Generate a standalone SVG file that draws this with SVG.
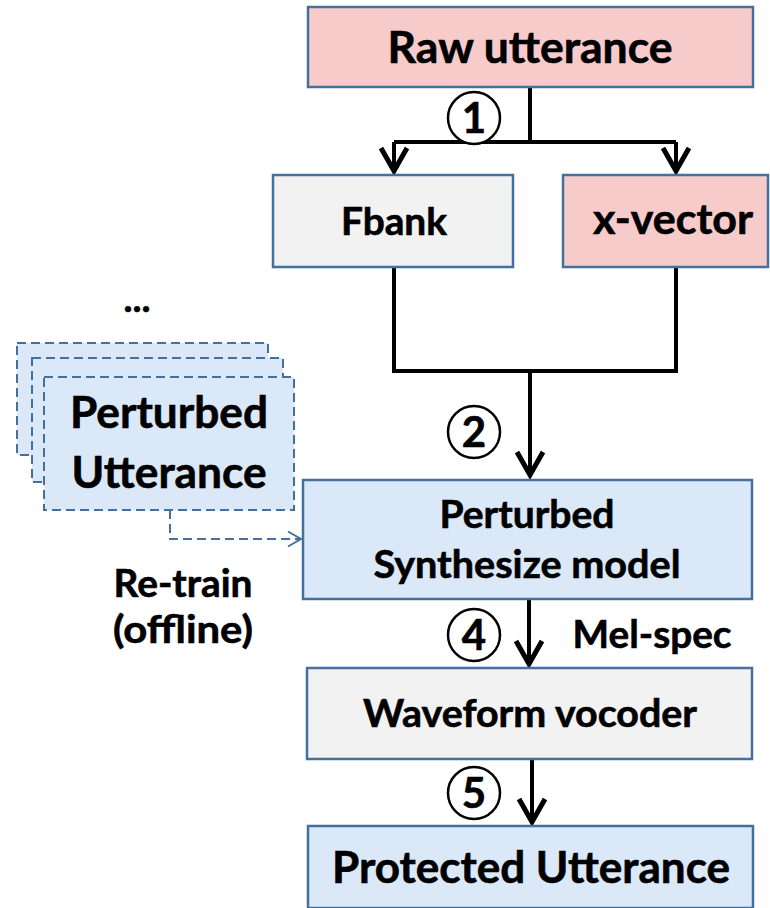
<svg xmlns="http://www.w3.org/2000/svg" width="770" height="908" viewBox="0 0 770 908">
  <defs>
    <style>
      .box { stroke: #41719c; stroke-width: 2.5; }
      .pink { fill: #f8cbcb; }
      .grey { fill: #f2f2f2; }
      .blue { fill: #dae8f8; }
      .dash { fill: #dae8f8; stroke: #41719c; stroke-width: 2; stroke-dasharray: 9 5; }
      .lbl { font-family: Lato, "Open Sans", "DejaVu Sans", sans-serif; font-weight: bold; fill: #000; stroke: #000; stroke-width: 0.6; text-anchor: middle; }
      .flow { fill: none; stroke: #000; stroke-width: 4; }
      .step { fill: #fff; stroke: #000; stroke-width: 2.5; }
    </style>
    <!-- open chevron head pointing along the path -->
    <marker id="chev" viewBox="0 0 34 34" refX="28" refY="17" markerWidth="34" markerHeight="34" markerUnits="userSpaceOnUse" orient="auto">
      <path d="M5,4 L28,17 L5,30" fill="none" stroke="#000" stroke-width="5"/>
    </marker>
    <marker id="thin" viewBox="0 0 20 20" refX="17" refY="10" markerWidth="20" markerHeight="20" markerUnits="userSpaceOnUse" orient="auto">
      <path d="M4,2.5 L17,10 L4,17.5" fill="none" stroke="#41719c" stroke-width="2"/>
    </marker>
  </defs>

  <!-- connectors -->
  <g id="connectors">
    <path class="flow" d="M530,87 V142"/>
    <path class="flow" d="M394,142 H676"/>
    <path class="flow" d="M394,142 V171" marker-end="url(#chev)"/>
    <path class="flow" d="M676,142 V171" marker-end="url(#chev)"/>
    <path class="flow" d="M394,267 V371 H676 V267"/>
    <path class="flow" d="M530,371 V475" marker-end="url(#chev)"/>
    <path class="flow" d="M529,599 V664" marker-end="url(#chev)"/>
    <path class="flow" d="M532,759 V822" marker-end="url(#chev)"/>
    <path d="M170,510 V539 H301" fill="none" stroke="#41719c" stroke-width="2" stroke-dasharray="9 5" marker-end="url(#thin)"/>
  </g>

  <!-- step numbers -->
  <g id="step1"><circle class="step" cx="474" cy="118" r="26"/><text class="lbl" x="474" y="133" font-size="42">1</text></g>
  <g id="step2"><circle class="step" cx="474" cy="432" r="26"/><text class="lbl" x="474" y="447" font-size="42">2</text></g>
  <g id="step4"><circle class="step" cx="474" cy="635" r="26"/><text class="lbl" x="474" y="650" font-size="42">4</text></g>
  <g id="step5"><circle class="step" cx="474" cy="793" r="26"/><text class="lbl" x="474" y="808" font-size="42">5</text></g>

  <g id="raw">
    <rect class="box pink" x="308" y="7" width="445" height="80"/>
    <text class="lbl" x="530" y="63" font-size="44" textLength="285" lengthAdjust="spacingAndGlyphs">Raw utterance</text>
  </g>

  <g id="fbank">
    <rect class="box grey" x="273" y="175" width="240" height="92"/>
    <text class="lbl" x="394" y="235" font-size="38" textLength="106" lengthAdjust="spacingAndGlyphs">Fbank</text>
  </g>

  <g id="xvector">
    <rect class="box pink" x="563" y="175" width="205" height="92"/>
    <text class="lbl" x="673" y="234" font-size="42" textLength="160" lengthAdjust="spacingAndGlyphs">x-vector</text>
  </g>

  <g id="perturbed-utterance">
    <rect class="dash" x="17" y="343" width="251" height="112"/>
    <rect class="dash" x="32" y="358" width="251" height="124"/>
    <rect class="dash" x="44" y="377" width="250" height="133"/>
    <text class="lbl" x="169" y="428" font-size="44" textLength="198" lengthAdjust="spacingAndGlyphs">Perturbed</text>
    <text class="lbl" x="169" y="488" font-size="44" textLength="195" lengthAdjust="spacingAndGlyphs">Utterance</text>
  </g>

  <g id="more"><text class="lbl" x="137" y="312" font-size="38">...</text></g>

  <g id="retrain">
    <text class="lbl" x="183" y="597" font-size="39" textLength="139" lengthAdjust="spacingAndGlyphs">Re-train</text>
    <text class="lbl" x="183" y="643" font-size="39" textLength="140" lengthAdjust="spacingAndGlyphs">(offline)</text>
  </g>

  <g id="synth">
    <rect class="box blue" x="303" y="480" width="449" height="119"/>
    <text class="lbl" x="527" y="528" font-size="39" textLength="175" lengthAdjust="spacingAndGlyphs">Perturbed</text>
    <text class="lbl" x="527" y="578" font-size="39" textLength="307" lengthAdjust="spacingAndGlyphs">Synthesize model</text>
  </g>

  <g id="melspec"><text class="lbl" x="652" y="648" font-size="39" textLength="159" lengthAdjust="spacingAndGlyphs">Mel-spec</text></g>

  <g id="vocoder">
    <rect class="box grey" x="307" y="668" width="445" height="91"/>
    <text class="lbl" x="530" y="727" font-size="39" textLength="334" lengthAdjust="spacingAndGlyphs">Waveform vocoder</text>
  </g>

  <g id="protected">
    <rect class="box blue" x="308" y="826" width="445" height="82"/>
    <text class="lbl" x="531" y="883" font-size="44" textLength="398" lengthAdjust="spacingAndGlyphs">Protected Utterance</text>
  </g>
</svg>
